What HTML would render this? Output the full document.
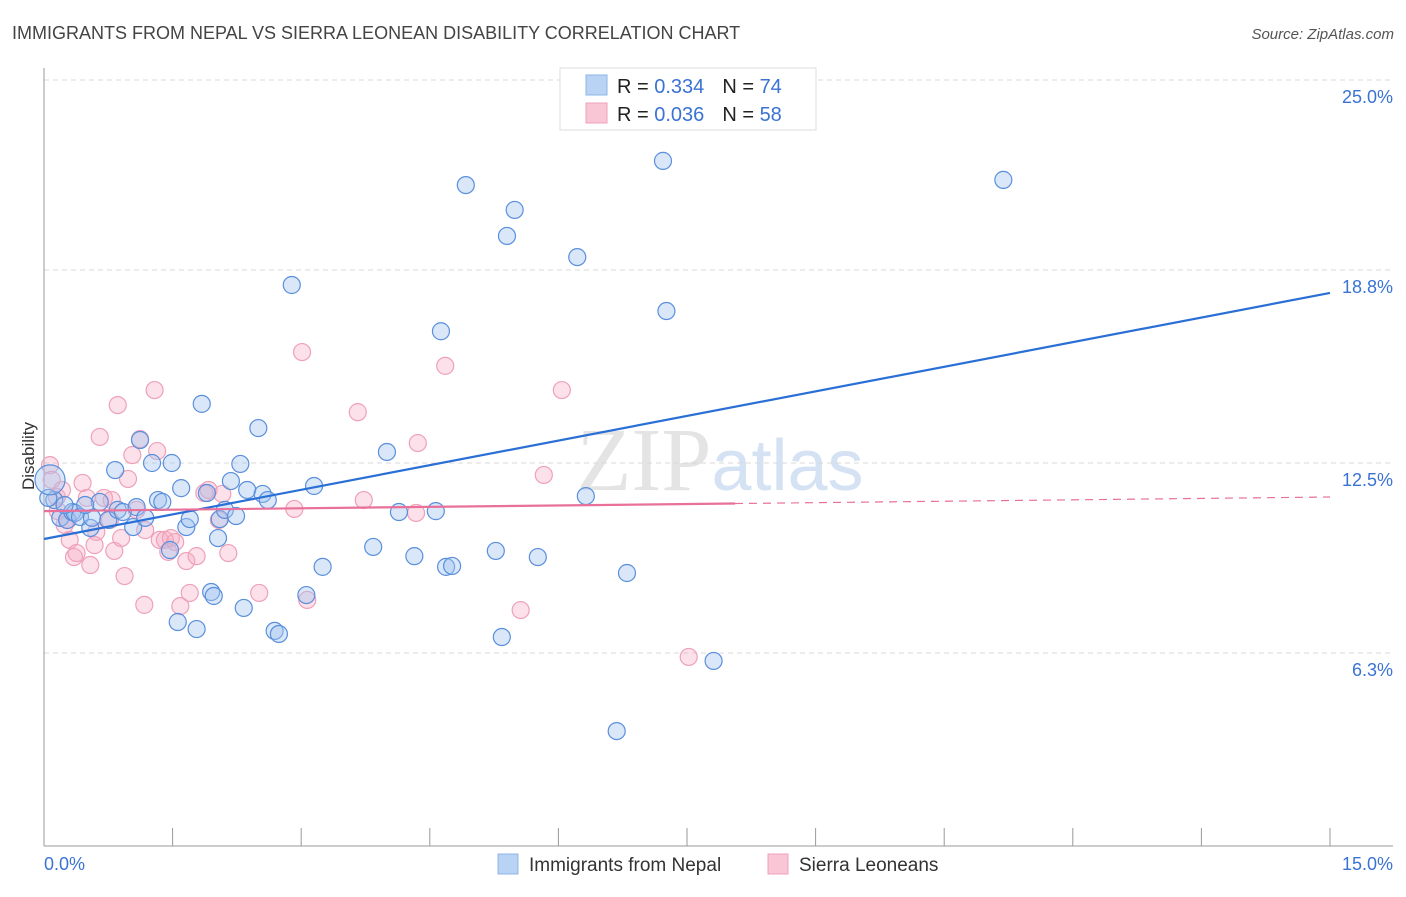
<!DOCTYPE html>
<html><head><meta charset="utf-8"><style>
html,body{margin:0;padding:0;background:#fff;}
body{width:1406px;height:892px;overflow:hidden;font-family:"Liberation Sans",sans-serif;}
</style></head><body>
<svg id="chart" width="1406" height="892" xmlns="http://www.w3.org/2000/svg" font-family="Liberation Sans, sans-serif">
<text x="12" y="39" font-size="18" fill="#444">IMMIGRANTS FROM NEPAL VS SIERRA LEONEAN DISABILITY CORRELATION CHART</text>
<text x="1394" y="39" font-size="15" fill="#555" text-anchor="end" font-style="italic">Source: ZipAtlas.com</text>
<text x="720" y="490" font-size="90" fill="#e4e4e4" text-anchor="middle" font-family="Liberation Serif, serif">ZIP<tspan fill="#d4e2f4" font-family="Liberation Sans, sans-serif" font-size="72">atlas</tspan></text>
<text transform="translate(34,456) rotate(-90)" font-size="17" fill="#333" text-anchor="middle">Disability</text>
<g id="grid"></g><g id="axes"></g><g id="pts"></g><g id="lines"></g>
<g>
<rect x="560" y="68" width="256" height="62" fill="#fff" stroke="#ddd"/>
<rect x="586" y="75" width="21" height="20" fill="#b9d3f5" stroke="#8fb4e8"/>
<text x="617" y="93" font-size="20" fill="#222">R = <tspan fill="#3a73d4">0.334</tspan><tspan dx="18">N = </tspan><tspan fill="#3a73d4">74</tspan></text>
<rect x="586" y="103" width="21" height="20" fill="#f9c6d6" stroke="#eea1b9"/>
<text x="617" y="121" font-size="20" fill="#222">R = <tspan fill="#3a73d4">0.036</tspan><tspan dx="18">N = </tspan><tspan fill="#3a73d4">58</tspan></text>
</g>
<g>
<rect x="498" y="854" width="20" height="20" fill="#b9d3f5" stroke="#8fb4e8"/>
<text x="529" y="871" font-size="19" fill="#333">Immigrants from Nepal</text>
<rect x="768" y="854" width="20" height="20" fill="#f9c6d6" stroke="#eea1b9"/>
<text x="799" y="871" font-size="19" fill="#333">Sierra Leoneans</text>
</g>
</svg>
<script>
const yTicks=[6.3,12.5,18.8,25.0];
const yTickLabels=["6.3%","12.5%","18.8%","25.0%"];
const xTicks=[0,1.5,3,4.5,6,7.5,9,10.5,12,13.5,15];
const nepalX=[0.12,0.19,0.27,0.33,0.36,0.42,0.54,0.56,0.65,0.75,0.83,0.86,0.92,1.04,1.08,1.12,1.18,1.26,1.33,1.38,1.47,1.49,1.56,1.60,1.66,1.70,1.78,1.84,1.90,1.95,1.98,2.03,2.05,2.11,2.18,2.24,2.29,2.33,2.37,2.50,2.55,2.61,2.69,2.74,2.89,3.06,3.15,3.25,3.84,4.00,4.14,4.32,4.57,4.63,4.69,4.76,4.92,5.27,5.34,5.40,5.49,5.76,6.22,6.32,6.68,6.80,7.22,7.26,7.81,11.19,0.05,0.24,0.48,0.07];
const nepalY=[11.29,10.71,10.64,10.90,10.87,10.74,10.38,10.71,11.23,10.64,12.27,10.97,10.90,10.41,11.06,13.25,10.71,12.50,11.29,11.23,9.66,12.50,7.31,11.68,10.41,10.67,7.08,14.43,11.52,8.29,8.16,10.05,10.67,10.97,11.91,10.77,12.47,7.77,11.62,13.64,11.49,11.29,7.02,6.92,18.31,8.19,11.75,9.11,9.76,12.86,10.90,9.46,10.93,16.80,9.11,9.14,21.57,9.63,6.82,19.91,20.76,9.43,19.22,11.42,3.75,8.91,22.36,17.46,6.04,21.74,11.36,11.13,11.13,11.95];
const nepalR=[8.5,8.5,8.5,8.5,8.5,8.5,8.5,8.5,8.5,8.5,8.5,8.5,8.5,8.5,8.5,8.5,8.5,8.5,8.5,8.5,8.5,8.5,8.5,8.5,8.5,8.5,8.5,8.5,8.5,8.5,8.5,8.5,8.5,8.5,8.5,8.5,8.5,8.5,8.5,8.5,8.5,8.5,8.5,8.5,8.5,8.5,8.5,8.5,8.5,8.5,8.5,8.5,8.5,8.5,8.5,8.5,8.5,8.5,8.5,8.5,8.5,8.5,8.5,8.5,8.5,8.5,8.5,8.5,8.5,8.5,8.5,8.5,8.5,15];
const sierraX=[0.07,0.09,0.15,0.21,0.24,0.30,0.35,0.38,0.45,0.50,0.54,0.61,0.65,0.70,0.77,0.82,0.86,0.90,0.94,0.98,1.03,1.08,1.12,1.18,1.29,1.32,1.35,1.41,1.45,1.48,1.53,1.59,1.66,1.70,1.78,1.87,1.92,2.04,2.08,2.15,2.51,2.92,3.01,3.07,3.66,3.73,4.34,4.36,4.68,5.56,5.83,6.04,7.52,1.17,0.28,0.59,0.79,0.16];
const sierraY=[12.43,11.95,11.39,11.62,10.48,9.99,9.43,9.56,11.85,11.36,9.17,10.25,13.35,11.36,10.64,9.63,14.39,10.05,8.81,11.98,12.76,10.97,13.28,10.31,14.88,12.89,9.99,9.99,9.60,10.05,9.92,7.83,9.30,8.26,9.46,11.52,11.62,10.64,11.49,9.56,8.26,11.00,16.12,8.03,14.16,11.29,10.87,13.15,15.67,7.70,12.11,14.88,6.17,7.87,10.64,9.82,11.29,10.93];
const nepalLine=[10.02,18.05];
const sierraLine=[10.93,11.39];
const sierraSolidEnd=8.06;

const NS="http://www.w3.org/2000/svg";
const X0=44,X1=1330,YB=846,YT=80;
const sx=v=>X0+(v/15)*(X1-X0);
const sy=v=>YB-(v/25)*(YB-YT);
function mk(tag,attrs,parent){const e=document.createElementNS(NS,tag);for(const k in attrs)e.setAttribute(k,attrs[k]);parent.appendChild(e);return e;}
const grid=document.getElementById('grid'),axes=document.getElementById('axes'),pts=document.getElementById('pts'),lines=document.getElementById('lines');
yTicks.forEach((t,i)=>{
  const l=mk('line',{x1:X0,x2:1393,y1:sy(t),y2:sy(t),stroke:'#d8d8d8','stroke-dasharray':'5,4'},grid);
  
  
  const tx=mk('text',{x:1393,y:sy(t)+23,'font-size':18,fill:'#3a73d4','text-anchor':'end'},grid);
  
  
  tx.textContent=yTickLabels[i];
});
const ya=mk('line',{x1:X0,x2:X0,y1:68,y2:YB,stroke:'#999'},axes);


const xa=mk('line',{x1:X0,x2:1393,y1:YB,y2:YB,stroke:'#999'},axes);


xTicks.forEach(t=>{
  const l=mk('line',{x1:sx(t),x2:sx(t),y1:YB-18,y2:YB,stroke:'#999'},axes);
  
  
});
const xl0=mk('text',{x:44,y:870,'font-size':18,fill:'#3a73d4'},axes);


xl0.textContent='0.0%';
const xl1=mk('text',{x:1393,y:870,'font-size':18,fill:'#3a73d4','text-anchor':'end'},axes);


xl1.textContent='15.0%';
sierraX.forEach((x,i)=>{
  const c=mk('circle',{cx:sx(x),cy:sy(sierraY[i]),r:8.5,fill:'rgba(246,170,195,0.35)',stroke:'#eea1b9','stroke-width':1.2},pts);
  
  
});
nepalX.forEach((x,i)=>{
  const c=mk('circle',{cx:sx(x),cy:sy(nepalY[i]),r:nepalR[i],fill:'rgba(160,195,240,0.4)',stroke:'#5a8fdc','stroke-width':1.2},pts);
  
  
});
const bl=mk('line',{x1:sx(0),y1:sy(nepalLine[0]),x2:sx(15),y2:sy(nepalLine[1]),stroke:'#2a6fd6','stroke-width':2.2},lines);


const pyAt=x=>sierraLine[0]+(sierraLine[1]-sierraLine[0])*x/15;
const pl=mk('line',{x1:sx(0),y1:sy(pyAt(0)),x2:sx(sierraSolidEnd),y2:sy(pyAt(sierraSolidEnd)),stroke:'#e8709a','stroke-width':2.2},lines);


const pd=mk('line',{x1:sx(sierraSolidEnd),y1:sy(pyAt(sierraSolidEnd)),x2:sx(15),y2:sy(pyAt(15)),stroke:'#e8709a','stroke-width':1.2,'stroke-dasharray':'8,6'},lines);


</script>
</body></html>
